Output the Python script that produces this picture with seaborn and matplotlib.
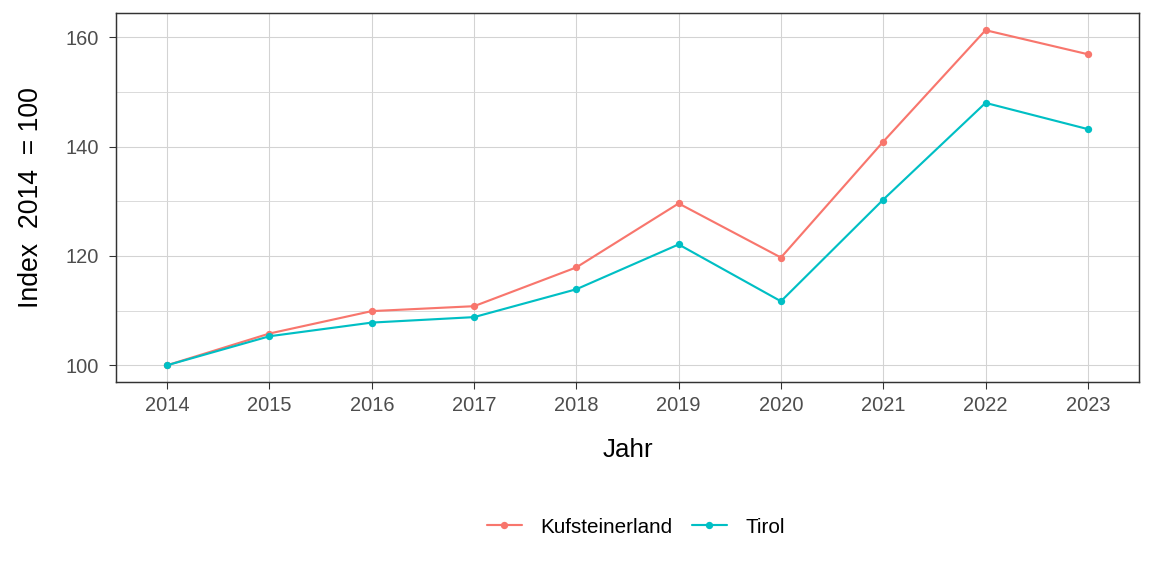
import matplotlib
matplotlib.use("Agg")
import matplotlib.pyplot as plt
import seaborn as sns
import pandas as pd
from matplotlib.ticker import MultipleLocator

# values
years = [2014, 2015, 2016, 2017, 2018, 2019, 2020, 2021, 2022, 2023]
kufsteinerland = [100.0, 105.8, 109.9, 110.8, 117.9, 129.6, 119.7, 140.9, 161.3, 156.9]
tirol = [100.0, 105.3, 107.8, 108.8, 113.9, 122.1, 111.7, 130.3, 148.0, 143.2]
regions = ["Kufsteinerland", "Tirol"]
palette = {"Kufsteinerland": "#F8766D", "Tirol": "#00BFC4"}

df = pd.DataFrame({
    "Jahr": years * 2,
    "Index": kufsteinerland + tirol,
    "Region": [regions[0]] * len(years) + [regions[1]] * len(years),
})

sns.set_style("white")
plt.rcParams["font.family"] = ["Liberation Sans", "DejaVu Sans"]

fig = plt.figure(figsize=(12, 6), dpi=96)
ax = fig.add_axes([0.1007, 0.337, 0.888, 0.640])

sns.lineplot(data=df, x="Jahr", y="Index", hue="Region", hue_order=regions,
             palette=palette, marker="o", markersize=5.5, markeredgewidth=0,
             linewidth=1.6, ax=ax, legend=False, zorder=3)

ax.set_xlim(2013.5, 2023.5)
ax.set_ylim(96.95, 164.4)
ax.set_xticks(years)
ax.yaxis.set_major_locator(MultipleLocator(20))
ax.yaxis.set_minor_locator(MultipleLocator(10))
ax.grid(which="major", color="#D3D3D3", linewidth=0.8)
ax.grid(which="minor", axis="y", color="#D9D9D9", linewidth=0.7)
ax.set_axisbelow(True)
for s in ax.spines.values():
    s.set_color("#333333")
    s.set_linewidth(1.1)
ax.tick_params(axis="both", which="major", length=5, width=0.8, color="#333333",
               labelsize=15, labelcolor="#4D4D4D", left=True, bottom=True)
ax.tick_params(axis="x", pad=5.5)
ax.tick_params(axis="y", pad=8)
ax.tick_params(axis="y", which="minor", length=0)

ax.set_xlabel("Jahr", fontsize=19.5, labelpad=17, color="black")
ax.set_ylabel("Index  2014  = 100", fontsize=20, labelpad=16, color="black")

handles = [plt.Line2D([], [], color=palette[r], marker="o", markersize=5.5,
                      markeredgewidth=0, linewidth=1.6) for r in regions]
leg = fig.legend(handles, regions, loc="center", bbox_to_anchor=(0.552, 0.085), ncol=2,
                 frameon=False, fontsize=15.5, handlelength=1.7, handletextpad=0.9,
                 columnspacing=0.92)
for t in leg.get_texts():
    t.set_color("black")

fig.savefig("out.png", dpi=96)
